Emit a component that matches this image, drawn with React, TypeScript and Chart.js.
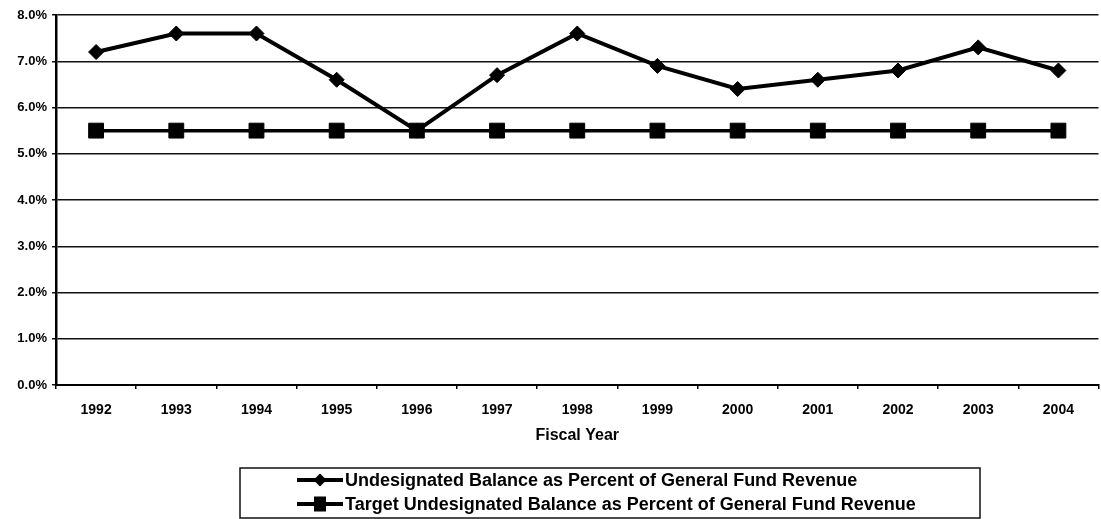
import React, { useEffect, useRef } from "react";
import { Chart, registerables } from "chart.js";

Chart.register(...registerables);

const years = ["1992", "1993", "1994", "1995", "1996", "1997", "1998", "1999", "2000", "2001", "2002", "2003", "2004"];
const undesignatedBalance = [7.2, 7.6, 7.6, 6.6, 5.5, 6.7, 7.6, 6.9, 6.4, 6.6, 6.8, 7.3, 6.8];
const targetBalance = [5.5, 5.5, 5.5, 5.5, 5.5, 5.5, 5.5, 5.5, 5.5, 5.5, 5.5, 5.5, 5.5];
const yTickLabels = ["0.0%", "1.0%", "2.0%", "3.0%", "4.0%", "5.0%", "6.0%", "7.0%", "8.0%"];
const seriesNames = [
  "Undesignated Balance as Percent of General Fund Revenue",
  "Target Undesignated Balance as Percent of General Fund Revenue",
];
const xTitle = "Fiscal Year";

const FONT = "'Liberation Sans', Arial, Helvetica, sans-serif";

const boxLegendPlugin = {
  id: "boxLegend",
  afterDraw(chart: any) {
    const ctx = chart.ctx;
    ctx.save();
    ctx.strokeStyle = "#111";
    ctx.lineWidth = 1.5;
    ctx.strokeRect(240, 468, 740, 50);
    const rows = [480, 504];
    chart.data.datasets.forEach((ds: any, i: number) => {
      const y = rows[i];
      ctx.strokeStyle = "#000";
      ctx.lineWidth = 4;
      ctx.beginPath();
      ctx.moveTo(297, y);
      ctx.lineTo(343, y);
      ctx.stroke();
      ctx.fillStyle = "#000";
      ctx.beginPath();
      if (ds.pointStyle === "rectRot") {
        const r = 6.5;
        ctx.moveTo(320 - r, y);
        ctx.lineTo(320, y - r);
        ctx.lineTo(320 + r, y);
        ctx.lineTo(320, y + r);
        ctx.closePath();
      } else {
        ctx.rect(314, y - 7.5, 12, 15);
      }
      ctx.fill();
      ctx.font = `bold 18px ${FONT}`;
      ctx.textBaseline = "middle";
      ctx.textAlign = "left";
      ctx.fillText(ds.label, 345, y + 1);
    });
    ctx.restore();
  },
};

export default function App() {
  const ref = useRef<HTMLCanvasElement | null>(null);

  useEffect(() => {
    document.body.style.margin = "0";
    const canvas = ref.current!;
    const chart = new Chart(canvas, {
      type: "line",
      data: {
        labels: years,
        datasets: [
          {
            label: seriesNames[0],
            data: undesignatedBalance,
            borderColor: "#000",
            backgroundColor: "#000",
            borderWidth: 4,
            pointStyle: "rectRot",
            pointRadius: 7.5,
            pointBorderWidth: 1,
            pointBackgroundColor: "#000",
            pointBorderColor: "#000",
            tension: 0,
          },
          {
            label: seriesNames[1],
            data: targetBalance,
            borderColor: "#000",
            backgroundColor: "#000",
            borderWidth: 3.5,
            pointStyle: "rect",
            pointRadius: 10.5,
            pointBorderWidth: 1,
            pointBackgroundColor: "#000",
            pointBorderColor: "#000",
            tension: 0,
          },
        ],
      },
      options: {
        animation: false,
        responsive: false,
        devicePixelRatio: 1,
        layout: { padding: { top: 15, left: 0, right: 1, bottom: 70 } },
        plugins: {
          legend: { display: false },
          tooltip: { enabled: false },
        },
        scales: {
          x: {
            type: "category",
            offset: true,
            grid: {
              offset: true,
              drawOnChartArea: false,
              drawTicks: true,
              tickLength: 4,
              color: "#000",
              lineWidth: 1.5,
            },
            border: { color: "#000", width: 2 },
            ticks: {
              color: "#000",
              padding: 13,
              maxRotation: 0,
              autoSkip: false,
              font: { family: FONT, size: 14, weight: "bold" },
            },
            title: {
              display: true,
              text: xTitle,
              color: "#000",
              padding: { top: 8, bottom: 4 },
              font: { family: FONT, size: 16, weight: "bold" },
            },
            afterFit(scale: any) {
              scale.height = 64;
            },
          },
          y: {
            min: 0,
            max: 8,
            grid: {
              color: "#111",
              lineWidth: 1.5,
              drawTicks: true,
              tickLength: 4,
            },
            border: { color: "#000", width: 2.5 },
            ticks: {
              stepSize: 1,
              color: "#000",
              padding: 5,
              font: { family: FONT, size: 13, weight: "bold" },
              callback: (_v: any, i: number) => yTickLabels[i],
            },
            afterFit(scale: any) {
              scale.width = 56;
            },
          },
        },
      },
      plugins: [boxLegendPlugin],
    });
    return () => chart.destroy();
  }, []);

  return (
    <div style={{ position: "fixed", left: 0, top: 0, width: 1101, height: 519, overflow: "hidden", background: "#fff" }}>
      <canvas ref={ref} width={1110} height={519} style={{ width: 1110, height: 519, display: "block" }} />
    </div>
  );
}
